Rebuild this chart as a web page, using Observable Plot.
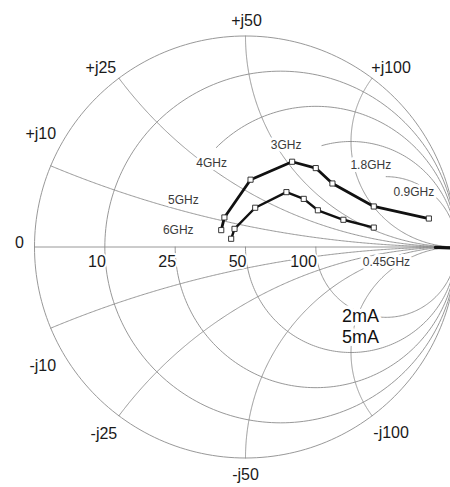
<!DOCTYPE html>
<html><head><meta charset="utf-8">
<script src="https://cdn.jsdelivr.net/npm/d3@7"></script>
<script src="https://cdn.jsdelivr.net/npm/@observablehq/plot@0.6"></script>
<style>
html,body{margin:0;padding:0;background:#fff;}
#chart svg{display:block;}
</style>
</head><body><div id="chart"></div>
<script>
// ---------- data ----------
const Z0 = 50;
const resistanceTicks = [10, 25, 50, 100];           // ohms
const reactanceTicks = [10, 25, 50, 100];            // ohms (+j and -j)
const freqGHz = [0.9, 1.8, 2.2, 2.6, 3, 4, 5, 6];
const freqLabels = ["0.9GHz", "1.8GHz", "", "", "3GHz", "4GHz", "5GHz", "6GHz"];
const s2mA_re = [0.869, 0.608, 0.412, 0.333, 0.221, 0.024, -0.100, -0.115];
const s2mA_im = [0.135, 0.192, 0.301, 0.374, 0.404, 0.319, 0.140, 0.080];
const s5mA_re = [0.608, 0.464, 0.343, 0.276, 0.194, 0.046, -0.052, -0.068];
const s5mA_im = [0.092, 0.129, 0.174, 0.228, 0.260, 0.186, 0.086, 0.039];
const f045_re = [0.90, 0.975];
const f045_im = [-0.002, -0.004];
const seriesNames = ["2mA", "5mA"];

// ---------- geometry helpers ----------
const R = 211, cx = 245, cy = 246.5;   // chart radius / centre in pixels
function gamma(r, x) {
  const den = (r + 1) * (r + 1) + x * x;
  return [(r * r + x * x - 1) / den, (2 * x) / den];
}
// shift a point by a pixel offset (converted to chart units)
const shift = (p, dx, dy) => ({...p, x: p.x + dx / R, y: p.y - dy / R});

const grid = [];
let gid = 0;
// resistance circles (angle ranges in degrees, around circle centre)
const rRanges = {0: [[0, 360]], 10: [[0, 360]], 25: [[180, 495]], 50: [[180, 466]], 100: [[180, 450]]};
[0, ...resistanceTicks].forEach(Rv => {
  const r = Rv / Z0, c = r / (1 + r), rho = 1 / (1 + r);
  rRanges[Rv].forEach(([a, b]) => {
    const id = gid++;
    for (let k = 0; k <= 240; k++) {
      const t = (a + (b - a) * k / 240) * Math.PI / 180;
      grid.push({id, x: c + rho * Math.cos(t), y: rho * Math.sin(t)});
    }
  });
});
// reactance arcs
reactanceTicks.forEach(X => {
  [1, -1].forEach(s => {
    const id = gid++;
    const xn = s * X / Z0;
    for (let k = 0; k <= 300; k++) {
      const t = k / 300;
      const [gx, gy] = t < 1 ? gamma(t / (1 - t), xn) : [1, 0];
      grid.push({id, x: gx, y: gy});
    }
  });
});
// real axis
const axisId = gid++;
grid.push({id: axisId, x: -1, y: 0}, {id: axisId, x: 1, y: 0});

const series = [
  ...s2mA_re.map((v, i) => ({s: seriesNames[0], f: freqGHz[i], lab: freqLabels[i], x: v, y: s2mA_im[i]})),
  ...s5mA_re.map((v, i) => ({s: seriesNames[1], f: freqGHz[i], x: v, y: s5mA_im[i]}))
];
const low = f045_re.map((v, i) => ({x: v, y: f045_im[i]}));

// tick labels
const rLabels = resistanceTicks.map(Rv => shift({t: String(Rv), x: gamma(Rv / Z0, 0)[0], y: 0}, 1, 15));
const xOff = {"10": [-10, -32], "25": [-18, -10], "50": [1, -15], "100": [19, -10]};
const xOffN = {"10": [-8, 38], "25": [-15, 18], "50": [0, 17], "100": [19, 17]};
const xLabels = [];
reactanceTicks.forEach(X => {
  const [gx, gy] = gamma(0, X / Z0);
  xLabels.push(shift({t: "+j" + X, x: gx, y: gy}, xOff[X][0], xOff[X][1]));
  xLabels.push(shift({t: "-j" + X, x: gx, y: -gy}, xOffN[X][0], xOffN[X][1]));
});
xLabels.push(shift({t: "0", x: -1, y: 0}, -15, -4));
const fOff = {"0.9GHz": [-15, -26], "1.8GHz": [-3, -41], "3GHz": [-6, -17], "4GHz": [-39, -17], "5GHz": [-41, -17], "6GHz": [-43, 0]};
const fLab = series.filter(d => d.lab).map(d => shift(d, fOff[d.lab][0], fOff[d.lab][1]));
fLab.push(shift({lab: "0.45GHz", ...low[0]}, -49, 15));
const nameLab = seriesNames.map((t, i) => ({t, x: 0.545, y: -0.33 - i * 0.1}));

const font = "'Liberation Sans', Arial, Helvetica, sans-serif";

const plot = Plot.plot({
  width: 450,
  height: 487,
  style: {fontFamily: font, background: "#fff", overflow: "hidden"},
  x: {domain: [-1, 1], range: [cx - R, cx + R], axis: null},
  y: {domain: [-1, 1], range: [cy + R, cy - R], axis: null},
  marks: [
    Plot.line(grid, {x: "x", y: "y", z: "id", stroke: "#8c8c8c", strokeWidth: 0.9, curve: "linear"}),
    // annotations (white halo breaks the grid as in the original)
    Plot.text(fLab, {x: "x", y: "y", text: "lab", fontSize: 12, fill: "#3a3a3a",
      stroke: "white", strokeWidth: 6, paintOrder: "stroke"}),
    Plot.text(nameLab, {x: "x", y: "y", text: "t", fontSize: 18, fill: "#111",
      stroke: "white", strokeWidth: 7, paintOrder: "stroke"}),
    // tick labels
    Plot.text(rLabels, {x: "x", y: "y", text: "t", textAnchor: "end", fontSize: 16, fill: "#1a1a1a",
      stroke: "white", strokeWidth: 4, paintOrder: "stroke"}),
    Plot.text(xLabels, {x: "x", y: "y", text: "t", fontSize: 16, fill: "#1a1a1a"}),
    // data
    Plot.line(low, {x: "x", y: "y", stroke: "#111", strokeWidth: 3.2}),
    Plot.line(series, {x: "x", y: "y", z: "s", stroke: "#111", strokeWidth: d => d.s === "2mA" ? 2.8 : 2.4, curve: "linear"}),
    Plot.dot(series, {x: "x", y: "y", symbol: "square", r: 2.9, fill: "white", stroke: "#222", strokeWidth: 0.9})
  ]
});
document.getElementById("chart").appendChild(plot);
</script>
</body></html>
